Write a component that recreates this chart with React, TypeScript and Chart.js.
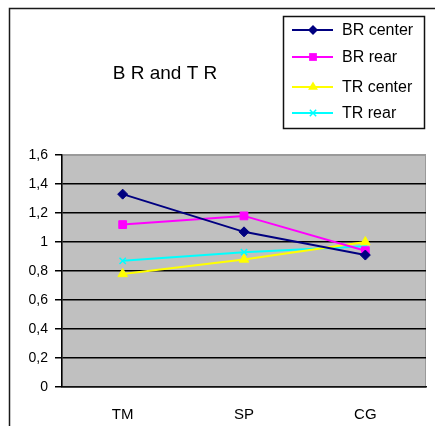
import React, { useEffect, useRef } from 'react';
import { Chart, registerables } from 'chart.js';

Chart.register(...registerables);

const categories = ['TM', 'SP', 'CG'];
const seriesNames = ['BR center', 'BR rear', 'TR center', 'TR rear'];
const brCenter = [1.33, 1.07, 0.91];
const brRear = [1.12, 1.18, 0.94];
const trCenter = [0.78, 0.88, 1.0];
const trRear = [0.87, 0.93, 0.97];
const yMin = 0;
const yMax = 1.6;
const yStep = 0.2;
const chartTitle = 'B R and T R';

const colors = ['#000080', '#ff00ff', '#ffff00', '#00ffff'];
const markers = ['rectRot', 'rect', 'triangle', 'crossRot'];
const markerRadius = [5, 5.5, 5.5, 4.5];

const FONT = '"Liberation Sans", Arial, sans-serif';

function drawMarker(ctx: CanvasRenderingContext2D, style: string, x: number, y: number, r: number, color: string) {
  ctx.save();
  ctx.fillStyle = color;
  ctx.strokeStyle = color;
  ctx.lineWidth = 1.5;
  ctx.beginPath();
  if (style === 'rectRot') {
    ctx.moveTo(x, y - r);
    ctx.lineTo(x + r, y);
    ctx.lineTo(x, y + r);
    ctx.lineTo(x - r, y);
    ctx.closePath();
    ctx.fill();
  } else if (style === 'rect') {
    const s = r * Math.SQRT1_2;
    ctx.rect(x - s, y - s, 2 * s, 2 * s);
    ctx.fill();
  } else if (style === 'triangle') {
    const h = r * 1.5;
    ctx.moveTo(x, y - r);
    ctx.lineTo(x + r * 0.9, y + h - r);
    ctx.lineTo(x - r * 0.9, y + h - r);
    ctx.closePath();
    ctx.fill();
  } else {
    const d = r * Math.SQRT1_2;
    ctx.moveTo(x - d, y - d);
    ctx.lineTo(x + d, y + d);
    ctx.moveTo(x + d, y - d);
    ctx.lineTo(x - d, y + d);
    ctx.stroke();
  }
  ctx.restore();
}

const decorPlugin = {
  id: 'decor',
  beforeDraw(chart: any) {
    const { ctx, chartArea } = chart;
    ctx.save();
    ctx.fillStyle = '#ffffff';
    ctx.fillRect(0, 0, chart.width, chart.height);
    // outer frame
    ctx.strokeStyle = '#1a1a1a';
    ctx.lineWidth = 1.5;
    ctx.beginPath();
    ctx.moveTo(9.5, 426);
    ctx.lineTo(9.5, 8.5);
    ctx.lineTo(435, 8.5);
    ctx.stroke();
    // plot area background
    ctx.fillStyle = '#c0c0c0';
    ctx.fillRect(chartArea.left, chartArea.top, chartArea.right - chartArea.left, chartArea.bottom - chartArea.top);
    ctx.strokeStyle = '#9a9a9a';
    ctx.lineWidth = 1;
    ctx.strokeRect(chartArea.left + 0.5, chartArea.top + 0.5, chartArea.right - chartArea.left - 1, chartArea.bottom - chartArea.top - 1);
    ctx.restore();
  },
  afterDraw(chart: any) {
    const { ctx } = chart;
    ctx.save();
    // title
    ctx.fillStyle = '#000';
    ctx.font = `19px ${FONT}`;
    ctx.textAlign = 'center';
    ctx.textBaseline = 'middle';
    ctx.fillText(chartTitle, 165, 74);
    // legend box
    ctx.strokeStyle = '#111';
    ctx.lineWidth = 1.5;
    ctx.strokeRect(283.5, 16.5, 141, 112);
    const rows = [30, 57, 87, 113];
    ctx.font = `16px ${FONT}`;
    ctx.textAlign = 'left';
    chart.data.datasets.forEach((ds: any, i: number) => {
      const y = rows[i];
      ctx.strokeStyle = ds.borderColor;
      ctx.lineWidth = 2;
      ctx.beginPath();
      ctx.moveTo(292, y);
      ctx.lineTo(333, y);
      ctx.stroke();
      drawMarker(ctx, ds.pointStyle, 313, y, ds.pointRadius, ds.borderColor);
      ctx.fillStyle = '#000';
      ctx.fillText(ds.label, 342, y + 1);
    });
    ctx.restore();
  },
};

export default function App() {
  const ref = useRef<HTMLCanvasElement | null>(null);

  useEffect(() => {
    if (!ref.current) return;
    const series = [brCenter, brRear, trCenter, trRear];
    const chart = new Chart(ref.current, {
      type: 'line',
      data: {
        labels: categories,
        datasets: series.map((vals, i) => ({
          label: seriesNames[i],
          data: vals,
          borderColor: colors[i],
          backgroundColor: colors[i],
          pointBackgroundColor: colors[i],
          pointBorderColor: colors[i],
          pointStyle: markers[i] as any,
          pointRadius: markerRadius[i],
          pointBorderWidth: i === 3 ? 1.5 : 1,
          borderWidth: 2,
          tension: 0,
          fill: false,
        })),
      },
      options: {
        responsive: false,
        animation: false,
        devicePixelRatio: 1,
        layout: { padding: { left: 0, right: 9, top: 155, bottom: 0 } },
        plugins: {
          legend: { display: false },
          title: { display: false },
          tooltip: { enabled: false },
        },
        scales: {
          x: {
            offset: true,
            grid: { display: false },
            border: { display: true, color: '#111', width: 1.5 },
            ticks: {
              color: '#000',
              font: { family: FONT, size: 15 },
              padding: 11,
              maxRotation: 0,
            },
            afterFit: (scale: any) => {
              scale.height = 39;
            },
          },
          y: {
            min: yMin,
            max: yMax,
            ticks: {
              stepSize: yStep,
              color: '#000',
              font: { family: FONT, size: 14 },
              padding: 7,
              callback: (v: any) => String(Math.round(Number(v) * 10) / 10).replace('.', ','),
            },
            grid: {
              color: (ctx: any) => (ctx.tick && Math.abs(ctx.tick.value - yMax) < 1e-6 ? '#9a9a9a' : '#000'),
              tickColor: '#000',
              lineWidth: 1.5,
              tickLength: 7,
            },
            border: { display: true, color: '#000', width: 1.5 },
            afterFit: (scale: any) => {
              scale.width = 62;
            },
          },
        },
      },
      plugins: [decorPlugin],
    });
    return () => chart.destroy();
  }, []);

  return (
    <div style={{ position: 'fixed', left: 0, top: 0, width: 435, height: 426, background: '#fff' }}>
      <canvas ref={ref} width={435} height={426} style={{ display: 'block', width: 435, height: 426 }} />
    </div>
  );
}
